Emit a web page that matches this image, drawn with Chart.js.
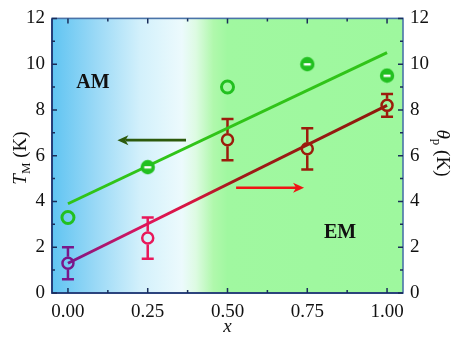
<!DOCTYPE html>
<html>
<head>
<meta charset="utf-8">
<script src="https://cdn.jsdelivr.net/npm/chart.js@4.4.1/dist/chart.umd.min.js"></script>
<style>
  html, body { margin: 0; padding: 0; background: #fff; }
  #wrap { width: 457px; height: 339px; }
</style>
</head>
<body>
<div id="wrap"><canvas id="chart"></canvas></div>
<script>
// data
const xVals = [0, 0.25, 0.5, 0.75, 1.0];
const tmVals = [3.3, 5.5, 9.0, 10.0, 9.5];
const thetaVals = [1.3, 2.4, 6.7, 6.3, 8.2];
const thetaErr = [0.7, 0.9, 0.9, 0.9, 0.5];
const fitX = [0, 1];
const tmFit = [3.9, 10.5];
const thetaFit = [1.3, 8.2];
const xTicks = [0, 0.25, 0.5, 0.75, 1.0];
const yTicks = [0, 2, 4, 6, 8, 10, 12];

const SERIF = "'Liberation Serif', serif";
const GREEN = '#22c020';
const thetaColors = ['#7a168a', '#e8185a', '#9c1c0c', '#9c1c0c', '#9c1c0c'];

Chart.defaults.font.family = SERIF;
Chart.defaults.color = '#111';

// green "filled circle with bar" marker
function barCircle() {
    const c = document.createElement('canvas');
    c.width = 16; c.height = 16;
    const g = c.getContext('2d');
    g.fillStyle = GREEN;
    g.beginPath(); g.arc(8, 8, 7.2, 0, Math.PI * 2); g.fill();
    g.fillStyle = '#ffffff';
    g.fillRect(4.5, 7, 7, 2.4);
    return c;
}
const BAR = barCircle();

function pts(xs, ys) { return xs.map((x, i) => ({ x, y: ys[i] })); }

function redGradient(context) {
    const chart = context.chart;
    const area = chart.chartArea;
    if (!area) return '#9c1c0c';
    const xs = chart.scales.x;
    const g = chart.ctx.createLinearGradient(xs.getPixelForValue(0), 0, xs.getPixelForValue(1), 0);
    g.addColorStop(0, '#7a168a');
    g.addColorStop(0.12, '#b0156e');
    g.addColorStop(0.25, '#e0155a');
    g.addColorStop(0.4, '#d4153e');
    g.addColorStop(0.52, '#a01a18');
    g.addColorStop(1, '#8e1a0c');
    return g;
}

const decor = {
    id: 'decor',
    beforeDraw(chart) {
        const { ctx, chartArea: a } = chart;
        const w = a.right - a.left;
        const g = ctx.createLinearGradient(a.left, 0, a.right, 0);
        g.addColorStop(0, '#60c4f2');
        g.addColorStop(0.12, '#98d8f6');
        g.addColorStop(0.25, '#d2f0fb');
        g.addColorStop(0.37, '#ecfafd');
        g.addColorStop(0.41, '#ddfbe2');
        g.addColorStop(0.46, '#b0f8ac');
        g.addColorStop(0.50, '#a0f8a0');
        g.addColorStop(1, '#9ef89e');
        ctx.save();
        ctx.fillStyle = g;
        ctx.fillRect(a.left, a.top, w, a.bottom - a.top);
        ctx.restore();
    },
    beforeDatasetsDraw(chart) {
        const { ctx } = chart;
        const xs = chart.scales.x, ys = chart.scales.y2;
        const r = 6.5;
        ctx.save();
        ctx.lineWidth = 2.5;
        xVals.forEach((x, i) => {
            const px = xs.getPixelForValue(x);
            const py = ys.getPixelForValue(thetaVals[i]);
            const top = ys.getPixelForValue(thetaVals[i] + thetaErr[i]);
            const bot = ys.getPixelForValue(thetaVals[i] - thetaErr[i]);
            ctx.strokeStyle = thetaColors[i];
            ctx.beginPath();
            ctx.moveTo(px, top); ctx.lineTo(px, py - r);
            ctx.moveTo(px, py + r); ctx.lineTo(px, bot);
            ctx.moveTo(px - 6, top); ctx.lineTo(px + 6, top);
            ctx.moveTo(px - 6, bot); ctx.lineTo(px + 6, bot);
            ctx.stroke();
        });
        ctx.restore();
    },
    afterDraw(chart) {
        const { ctx, chartArea: a } = chart;
        const xs = chart.scales.x, ys = chart.scales.y;
        ctx.save();
        // frame
        ctx.lineWidth = 1.6;
        ctx.strokeStyle = '#4a73a8';
        ctx.strokeRect(a.left, a.top, a.right - a.left, a.bottom - a.top);
        ctx.strokeStyle = '#1a2d6b';
        ctx.beginPath();
        ctx.moveTo(a.left, a.top); ctx.lineTo(a.left, a.bottom); ctx.lineTo(a.right, a.bottom);
        ctx.stroke();
        // inward ticks
        ctx.strokeStyle = '#1a2d5a';
        ctx.lineWidth = 1.5;
        ctx.beginPath();
        for (let v = 0; v <= 1.0001; v += 0.125) {
            const px = xs.getPixelForValue(v);
            const len = Math.abs(v * 4 - Math.round(v * 4)) < 1e-6 ? 5 : 3;
            ctx.moveTo(px, a.bottom); ctx.lineTo(px, a.bottom - len);
            ctx.moveTo(px, a.top); ctx.lineTo(px, a.top + len);
        }
        for (let v = 0; v <= 12; v += 1) {
            const py = ys.getPixelForValue(v);
            const len = v % 2 === 0 ? 5 : 3;
            ctx.moveTo(a.left, py); ctx.lineTo(a.left + len, py);
            ctx.moveTo(a.right, py); ctx.lineTo(a.right - len, py);
        }
        ctx.stroke();

        // arrows
        function arrow(x0, x1, y, color) {
            const p0 = xs.getPixelForValue(x0), p1 = xs.getPixelForValue(x1), py = ys.getPixelForValue(y);
            const dir = Math.sign(p1 - p0);
            ctx.strokeStyle = color; ctx.fillStyle = color; ctx.lineWidth = 2.6;
            ctx.beginPath(); ctx.moveTo(p0, py); ctx.lineTo(p1 - dir * 8, py); ctx.stroke();
            ctx.beginPath();
            ctx.moveTo(p1, py);
            ctx.lineTo(p1 - dir * 11, py - 5);
            ctx.lineTo(p1 - dir * 8, py);
            ctx.lineTo(p1 - dir * 11, py + 5);
            ctx.closePath(); ctx.fill();
        }
        arrow(0.37, 0.155, 6.68, '#2c5a0c');
        arrow(0.527, 0.74, 4.6, '#f01414');

        // region labels
        ctx.fillStyle = '#111';
        ctx.font = 'bold 20px ' + SERIF;
        ctx.textAlign = 'center'; ctx.textBaseline = 'middle';
        ctx.fillText('AM', 93, 83);
        ctx.fillText('EM', 340, 233);

        // axis titles
        ctx.font = 'italic 19px ' + SERIF;
        ctx.fillText('x', xs.getPixelForValue(0.5), 327);

        function subTitle(main, sub, rest, cx, cy, rot) {
            ctx.save();
            ctx.translate(cx, cy); ctx.rotate(rot);
            ctx.textBaseline = 'alphabetic'; ctx.textAlign = 'left';
            ctx.font = 'italic 19px ' + SERIF; const w1 = ctx.measureText(main).width;
            ctx.font = '13px ' + SERIF; const w2 = ctx.measureText(sub).width;
            ctx.font = '19px ' + SERIF; const w3 = ctx.measureText(rest).width;
            let x = -(w1 + w2 + w3) / 2;
            ctx.font = 'italic 19px ' + SERIF; ctx.fillText(main, x, 6); x += w1;
            ctx.font = '13px ' + SERIF; ctx.fillText(sub, x, 10); x += w2;
            ctx.font = '19px ' + SERIF; ctx.fillText(rest, x, 6);
            ctx.restore();
        }
        subTitle('T', 'M', ' (K)', 20, 158, -Math.PI / 2);
        subTitle('θ', 'p', ' (K)', 443, 153, Math.PI / 2);
        ctx.restore();
    }
};

const tickFont = { family: SERIF, size: 19 };

new Chart(document.getElementById('chart'), {
    type: 'scatter',
    data: {
        datasets: [
            {
                label: 'TM',
                data: pts(xVals, tmVals),
                yAxisID: 'y',
                showLine: false,
                pointStyle: ['circle', BAR, 'circle', BAR, BAR],
                pointRadius: 6,
                borderWidth: 3,
                borderColor: GREEN,
                backgroundColor: 'rgba(0,0,0,0)',
                order: 0
            },
            {
                label: 'theta',
                data: pts(xVals, thetaVals),
                yAxisID: 'y2',
                showLine: false,
                pointStyle: 'circle',
                pointRadius: 5.5,
                borderWidth: 2.5,
                borderColor: thetaColors,
                backgroundColor: 'rgba(0,0,0,0)',
                order: 1
            },
            {
                label: 'TM fit',
                data: pts(fitX, tmFit),
                yAxisID: 'y',
                showLine: true,
                pointRadius: 0,
                borderWidth: 3,
                borderColor: '#30c418',
                order: 2
            },
            {
                label: 'theta fit',
                data: pts(fitX, thetaFit),
                yAxisID: 'y2',
                showLine: true,
                pointRadius: 0,
                borderWidth: 3,
                borderColor: redGradient,
                order: 3
            }
        ]
    },
    options: {
        responsive: true,
        maintainAspectRatio: false,
        animation: false,
        layout: { padding: { top: 13, left: 0, right: 0, bottom: 0 } },
        plugins: { legend: { display: false }, tooltip: { enabled: false } },
        scales: {
            x: {
                type: 'linear', min: -0.05, max: 1.05,
                afterBuildTicks: s => { s.ticks = xTicks.map(v => ({ value: v })); },
                afterFit: s => { s.height = 46; },
                grid: { display: false, drawTicks: false },
                border: { display: false },
                ticks: { padding: 8, color: '#111', font: tickFont, callback: v => v.toFixed(2) }
            },
            y: {
                position: 'left', min: 0, max: 12,
                afterBuildTicks: s => { s.ticks = yTicks.map(v => ({ value: v })); },
                afterFit: s => { s.width = 52; },
                grid: { display: false, drawTicks: false },
                border: { display: false },
                ticks: { padding: 7, color: '#111', font: tickFont }
            },
            y2: {
                position: 'right', min: 0, max: 12,
                afterBuildTicks: s => { s.ticks = yTicks.map(v => ({ value: v })); },
                afterFit: s => { s.width = 54; },
                grid: { display: false, drawTicks: false },
                border: { display: false },
                ticks: { padding: 7, color: '#111', font: tickFont }
            }
        }
    },
    plugins: [decor]
});
</script>
</body>
</html>
